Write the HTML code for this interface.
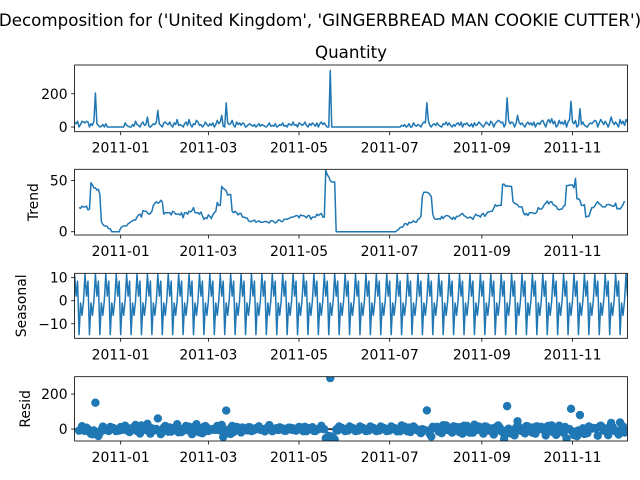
<!DOCTYPE html>
<html><head><meta charset="utf-8"><style>
html,body{margin:0;padding:0;background:#fff}
svg{display:block;font-family:"DejaVu Sans","Liberation Sans",sans-serif}
</style></head><body>
<svg id="fig" width="640" height="480" viewBox="0 0 640 480" xmlns="http://www.w3.org/2000/svg">
<text x="320" y="26" font-size="16.7" text-anchor="middle">Decomposition for ('United Kingdom', 'GINGERBREAD MAN COOKIE CUTTER')</text>
<text x="351" y="58" font-size="16.7" text-anchor="middle">Quantity</text>
</svg>
<script>
// daily quantity from 2010-12-01 (day 0)
const quantity = [
30,20,35,0,15,35,30, 25,35,30,0,20,10,35, 205,20,10,0,5,15,0, 20,0,0,0,0,0,0,
0,0,0,0,0,0,25, 10,5,0,0,15,5,35, 15,10,0,20,30,10,15, 60,5,0,10,20,15,30,
100,20,10,0,25,30,20, 15,30,10,0,25,15,45, 10,15,10,0,20,30,10, 45,15,0,20,15,40,30,
10,15,0,10,30,15,5, 20,10,25,0,15,40,20, 30,70,5,0,145,25,15, 20,40,10,0,30,15,25,
10,25,20,0,5,15,20, 10,5,15,0,10,20,5, 15,10,5,0,10,25,5, 10,5,20,0,5,15,10,
25,5,10,0,20,15,10, 30,10,15,0,25,20,10, 15,30,10,0,20,10,25, 15,5,25,0,20,30,15,
25,10,0,0,340,0,0, 0,0,0,0,0,0,0, 0,0,0,0,0,0,0, 0,0,0,0,0,0,0,
0,0,0,0,0,0,0, 0,0,0,0,0,0,0, 0,0,0,0,0,0,0, 0,0,0,10,5,15,0, 5,20,0,0,25,10,5,
15,10,0,20,30,25,145, 40,10,0,15,20,10,25, 10,5,0,20,15,30,10, 25,10,0,15,5,20,25,
10,30,0,20,15,25,10, 5,20,0,25,10,15,30, 20,10,0,15,30,20,10, 35,25,0,20,30,40,35,
25,30,0,20,175,40,20, 30,25,0,20,70,30,15, 25,10,0,20,30,15,25, 10,30,0,20,25,15,35,
40,20,0,30,45,25,50, 20,35,0,10,40,20,30, 15,40,0,30,45,155,30, 20,40,0,10,110,15,30,
10,5,0,15,25,20,30, 40,35,0,25,45,30,15, 35,20,0,25,60,30,15, 30,15,0,45,20,35,10,
45,30,25];
const seasonalPattern = [11.5, 2, 8.5, -14.7, -1, -6.3, 0];
const monthTickDays = [31, 90, 151, 212, 274, 335];
const monthTickLabels = ["2011-01","2011-03","2011-05","2011-07","2011-09","2011-11"];
const p1Ticks = [0, 200];
const p2Ticks = [0, 50];
const p3Ticks = [-10, 0, 10];
const p4Ticks = [0, 200];

const NS = "http://www.w3.org/2000/svg";
const svg = document.getElementById('fig');
const C = '#1f77b4';
const X0 = 74.6, X1 = 627.5, DMAX = 372;
function xs(d){ return X0 + d*(X1-X0)/DMAX; }
function mk(tag, attrs, parent){
  const e = document.createElementNS(NS, tag);
  for (const k in attrs) e.setAttribute(k, attrs[k]);
  (parent||svg).appendChild(e); return e;
}
const n = quantity.length;
const trend = quantity.map((v,i)=>{
  if (i<3 || i>n-4) return null;
  let s=0; for(let k=-3;k<=3;k++) s+=quantity[i+k]; return s/7;
});
const seasonal = quantity.map((v,i)=>seasonalPattern[i%7]);
const resid = quantity.map((v,i)=> trend[i]===null ? null : v - trend[i] - seasonal[i]);

function panel(name, top, bottom, ymin, ymax, ticks, ylabel, ylabelX){
  const g = mk('g', {});
  
  
  const ys = v => bottom - (v-ymin)/(ymax-ymin)*(bottom-top);
  const clipId = name + '-clip';
  const cp = mk('clipPath', {id: clipId}, g);
  mk('rect', {x: X0, y: top, width: X1-X0, height: bottom-top}, cp);
  const plot = mk('g', {'clip-path': 'url(#'+clipId+')'}, g);
  ticks.forEach(t=>{
    const y = ys(t);
    mk('line', {x1: X0-3.5, x2: X0, y1: y, y2: y, stroke: '#000', 'stroke-width': 0.8}, g);
    const tx = mk('text', {x: X0-7, y: y+5, 'font-size': 13.9, 'text-anchor': 'end'}, g);
    tx.textContent = t < 0 ? '\u2212' + Math.abs(t) : String(t);
    
    
  });
  monthTickDays.forEach((d,i)=>{
    const x = xs(d);
    mk('line', {x1: x, x2: x, y1: bottom, y2: bottom+3.5, stroke: '#000', 'stroke-width': 0.8}, g);
    const tx = mk('text', {x: x, y: bottom+21, 'font-size': 13.9, 'text-anchor': 'middle'}, g);
    tx.textContent = monthTickLabels[i];
    
    
  });
  if (ylabel){
    const cy = (top+bottom)/2;
    const yl = mk('text', {x: ylabelX, y: cy, 'font-size': 13.9, 'text-anchor': 'middle', transform: 'rotate(-90 '+ylabelX+' '+cy+')'}, g);
    yl.textContent = ylabel;
    
    
  }
  return {g, plot, ys, top, bottom};
}
function linePath(p, arr){
  let d = '', pen = false;
  arr.forEach((v,i)=>{
    if (v===null){ pen=false; return; }
    d += (pen?'L':'M') + xs(i).toFixed(2) + ',' + p.ys(v).toFixed(2);
    pen = true;
  });
  return mk('path', {d, fill: 'none', stroke: C, 'stroke-width': 1.5, 'stroke-linejoin': 'round'}, p.plot);
}
function frame(p){
  mk('rect', {x: X0, y: p.top, width: X1-X0, height: p.bottom-p.top, fill: 'none', stroke: '#000', 'stroke-width': 0.8}, p.g);
}

const p1 = panel('quantity', 65, 131.7, -28, 373, p1Ticks, null, 0);
const l1 = linePath(p1, quantity);


frame(p1);

const p2 = panel('trend', 169.3, 235, -3.2, 61, p2Ticks, 'Trend', 38);
const l2 = linePath(p2, trend);


frame(p2);

const p3 = panel('seasonal', 273.3, 338.3, -16.3, 11.9, p3Ticks, 'Seasonal', 26);
const l3 = linePath(p3, seasonal);


frame(p3);

const p4 = panel('resid', 376.7, 441, -68, 299, p4Ticks, 'Resid', 30);
const zl = mk('line', {x1: X0, x2: X1, y1: p4.ys(0), y2: p4.ys(0), stroke: '#000', 'stroke-width': 1.5}, p4.plot);


resid.forEach((v,i)=>{
  if (v===null) return;
  const c = mk('circle', {cx: xs(i), cy: p4.ys(v), r: 4.2, fill: C}, p4.plot);
  
  
});
frame(p4);
</script>
</body></html>
